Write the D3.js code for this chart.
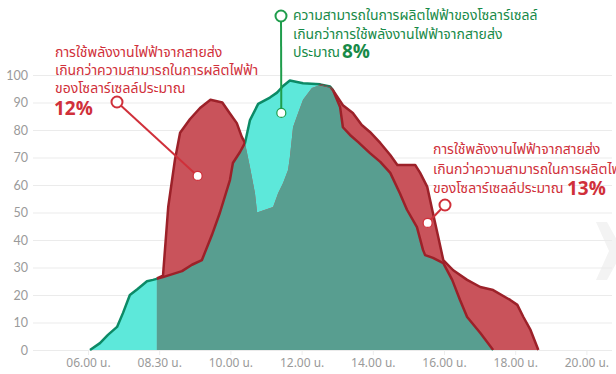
<!DOCTYPE html>
<html>
<head>
<meta charset="utf-8">
<script src="https://cdn.jsdelivr.net/npm/d3@7"></script>
<style>
  html, body { margin: 0; padding: 0; background: #fff; }
  svg { display: block; }
  .thai { font-family: "Noto Sans Thai", "Noto Sans Thai Looped", "Noto Sans", sans-serif; }
</style>
</head>
<body>
<svg id="chart" width="616" height="374"></svg>
<script>
// x-axis tick labels (hours of the day)
const tickHours = [6, 8.5, 10, 12, 14, 16, 18, 20];
const tickLabels = ["06.00 น.", "08.30 น.", "10.00 น.", "12.00 น.", "14.00 น.", "16.00 น.", "18.00 น.", "20.00 น."];
const yTicks = [0, 10, 20, 30, 40, 50, 60, 70, 80, 90, 100];

// solar cell output: [hour, value]
const solar = [
  [6.07, 0], [6.42, 2.5], [6.70, 5.5], [7.02, 8.4], [7.23, 13.5], [7.47, 20],
  [7.72, 22], [8.07, 25], [8.28, 25.5], [8.58, 26.5], [8.98, 28.7], [9.19, 31],
  [9.40, 32.7], [9.61, 41.8], [9.78, 50], [9.99, 61.8], [10.07, 68], [10.27, 72],
  [10.41, 75.3], [10.55, 83.6], [10.78, 89.5], [11.11, 91.8], [11.31, 93.6],
  [11.48, 96], [11.67, 98], [12.04, 97], [12.52, 96.6], [12.80, 95.8], [12.88, 94.5],
  [13.08, 88.4], [13.16, 81], [13.36, 78.2], [13.59, 75.6], [13.92, 71.6],
  [14.21, 68.4], [14.49, 64.4], [14.76, 57], [14.96, 51], [15.24, 44.7],
  [15.41, 36.4], [15.47, 34.5], [15.69, 33.5], [15.98, 31.6], [16.23, 25.5],
  [16.45, 18.2], [16.65, 12], [17.02, 6.2], [17.38, 0]
];

// power drawn from the grid: [hour, value]
const grid = [
  [8.42, 26], [8.58, 27], [8.69, 52], [8.83, 69], [8.94, 79], [9.15, 84],
  [9.36, 88], [9.58, 91], [9.83, 90], [9.99, 86], [10.18, 82.5], [10.32, 77.5],
  [10.41, 75.3], [10.55, 66.5], [10.69, 57], [10.75, 50], [11.20, 52], [11.34, 57],
  [11.48, 60.7], [11.62, 65.5], [11.67, 70], [11.76, 81], [11.87, 85], [12.04, 91],
  [12.29, 95.3], [12.52, 96.4], [12.80, 95.5], [12.88, 94.5], [13.16, 89],
  [13.44, 86.2], [13.69, 81.8], [13.92, 79.3], [14.21, 75.3], [14.49, 70.9],
  [14.69, 67.3], [15.19, 67.3], [15.33, 64.4], [15.53, 59.3], [15.67, 50.9],
  [15.84, 41], [15.98, 32.7], [16.26, 29], [16.65, 25.5], [17.02, 22.9],
  [17.38, 21.8], [17.86, 18.2], [18.06, 16.4], [18.23, 12], [18.43, 7.3], [18.65, 0]
];

// callout texts
const noteGridLeft = ["การใช้พลังงานไฟฟ้าจากสายส่ง", "เกินกว่าความสามารถในการผลิตไฟฟ้า", "ของโซลาร์เซลล์ประมาณ"];
const noteGridLeftValue = "12%";
const noteSolar = ["ความสามารถในการผลิตไฟฟ้าของโซลาร์เซลล์", "เกินกว่าการใช้พลังงานไฟฟ้าจากสายส่ง", "ประมาณ"];
const noteSolarValue = "8%";
const noteGridRight = ["การใช้พลังงานไฟฟ้าจากสายส่ง", "เกินกว่าความสามารถในการผลิตไฟฟ้า", "ของโซลาร์เซลล์ประมาณ"];
const noteGridRightValue = "13%";

const svg = d3.select("#chart");
const W = 616, H = 374;

const x = d3.scaleLinear()
  .domain(tickHours)
  .range(tickHours.map((d, i) => 88 + 71.2 * i));
const y = d3.scaleLinear().domain([0, 100]).range([350, 75]);

const colors = {
  cyan: "#5de8da",
  red: "#c9535b",
  overlap: "#589e90",
  tealLine: "#0c8a66",
  redLine: "#9c2129",
  note: "#d0303a",
  green: "#188a48",
  greenLine: "#1f9d4c"
};

// faint watermark chevron at the right edge
svg.append("path")
  .attr("d", "M596,222 L607,222 L618,242 L618,260 L607,280 L596,280 L609,251 Z")
  .attr("fill", "#f3f3f3");

// y axis with full-width gridlines
const yAxis = svg.append("g")
  .attr("transform", "translate(33,0)")
  .call(d3.axisLeft(y).tickValues(yTicks).tickSize(-(612 - 33)).tickPadding(5));
yAxis.select(".domain").remove();
yAxis.selectAll(".tick line").attr("stroke", "#ebebeb").attr("stroke-width", 1);
yAxis.selectAll(".tick text")
  .attr("fill", "#9a9a9a")
  .style("font-family", "Lato, 'Open Sans', sans-serif")
  .style("font-size", "12.5px");

// x axis
const xAxis = svg.append("g")
  .attr("transform", "translate(0,350)")
  .call(d3.axisBottom(x).tickValues(tickHours).tickFormat((d, i) => tickLabels[i]).tickSize(5).tickPadding(3));
xAxis.select(".domain").remove();
xAxis.selectAll(".tick line").attr("stroke", "#ededed");
xAxis.selectAll(".tick text")
  .attr("fill", "#9a9a9a")
  .attr("class", "thai")
  .style("font-size", "12px");

const area = d3.area().x(d => x(d[0])).y0(y(0)).y1(d => y(d[1]));
const line = d3.line().x(d => x(d[0])).y(d => y(d[1]));

const defs = svg.append("defs");
defs.append("clipPath").attr("id", "clip-grid").append("path").attr("d", area(grid));
const mGrid = defs.append("mask").attr("id", "out-grid");
mGrid.append("rect").attr("width", W).attr("height", H).attr("fill", "#fff");
mGrid.append("path").attr("d", area(grid)).attr("fill", "#000");
const mSolar = defs.append("mask").attr("id", "out-solar");
mSolar.append("rect").attr("width", W).attr("height", H).attr("fill", "#fff");
mSolar.append("path").attr("d", area(solar)).attr("fill", "#000");

// areas: solar, grid, and their overlap
svg.append("path").attr("d", area(solar)).attr("fill", colors.cyan);
svg.append("path").attr("d", area(grid)).attr("fill", colors.red);
svg.append("path").attr("d", area(solar)).attr("fill", colors.overlap).attr("clip-path", "url(#clip-grid)");

// outlines: green where solar leads, dark red around the grid surplus
svg.append("path").attr("d", line(solar)).attr("fill", "none")
  .attr("stroke", colors.tealLine).attr("stroke-width", 2.5).attr("stroke-linejoin", "round")
  .attr("mask", "url(#out-grid)");
svg.append("path").attr("d", line(solar)).attr("fill", "none")
  .attr("stroke", colors.redLine).attr("stroke-width", 2.5).attr("stroke-linejoin", "round")
  .attr("clip-path", "url(#clip-grid)");
svg.append("path").attr("d", line(grid)).attr("fill", "none")
  .attr("stroke", colors.redLine).attr("stroke-width", 2.5).attr("stroke-linejoin", "round")
  .attr("mask", "url(#out-solar)");

// callouts
function textBlock(lines, left, top, step, color) {
  const g = svg.append("g").attr("class", "thai").attr("fill", color);
  lines.forEach((t, i) => {
    g.append("text").attr("x", left).attr("y", top + i * step)
      .style("font-size", "14px").text(t);
  });
  return g;
}

function connector(x1, y1, hour, val, color) {
  const x2 = x(hour), y2 = y(val);
  svg.append("line").attr("x1", x1).attr("y1", y1).attr("x2", x2).attr("y2", y2)
    .attr("stroke", color).attr("stroke-width", 2);
  svg.append("circle").attr("cx", x1).attr("cy", y1).attr("r", 5.5)
    .attr("fill", "#fff").attr("stroke", color).attr("stroke-width", 2);
  svg.append("circle").attr("cx", x2).attr("cy", y2).attr("r", 4.5)
    .attr("fill", "#fff").attr("stroke", color).attr("stroke-width", 1.2);
}

// left callout
const gl = textBlock(noteGridLeft, 55, 57, 17.8, colors.note);
gl.append("text").attr("x", 54).attr("y", 115)
  .style("font-size", "19px").style("font-weight", "700").text(noteGridLeftValue);
connector(117, 102, 9.31, 63.3, colors.note);

// top callout
const gs = textBlock(noteSolar, 293, 20, 18.6, colors.green);
gs.append("text").attr("x", 342).attr("y", 58)
  .style("font-size", "19px").style("font-weight", "700").text(noteSolarValue);
connector(281, 16, 11.43, 86.2, colors.greenLine);

// right callout
const gr = textBlock(noteGridRight, 433, 154, 19.5, colors.note);
gr.append("text").attr("x", 567).attr("y", 195)
  .style("font-size", "19px").style("font-weight", "700").text(noteGridRightValue);
connector(445, 205, 15.54, 46.2, colors.note);
</script>
</body>
</html>
